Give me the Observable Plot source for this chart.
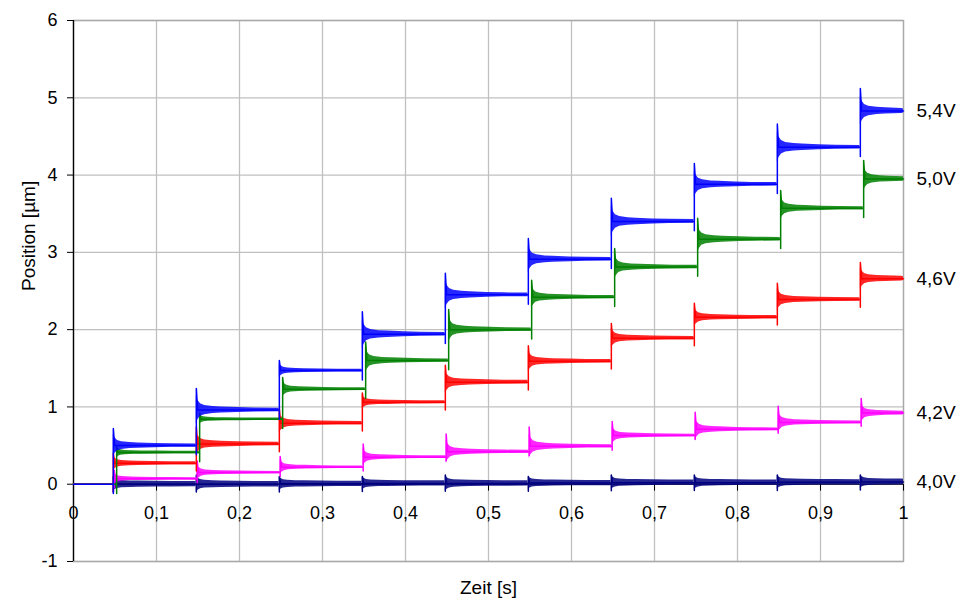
<!DOCTYPE html>
<html>
<head>
<meta charset="utf-8">
<script src="https://cdn.jsdelivr.net/npm/d3@7"></script>
<script src="https://cdn.jsdelivr.net/npm/@observablehq/plot@0.6"></script>
<style>
  html, body { margin: 0; padding: 0; background: white; }
</style>
</head>
<body>
<div id="chart"></div>
<script>
// ---- Data ----
const xTicks = [0, 0.1, 0.2, 0.3, 0.4, 0.5, 0.6, 0.7, 0.8, 0.9, 1];
const xTickLabels = ["0", "0,1", "0,2", "0,3", "0,4", "0,5", "0,6", "0,7", "0,8", "0,9", "1"];
const yTicks = [-1, 0, 1, 2, 3, 4, 5, 6];

const seriesNames = ["5,4V", "5,0V", "4,6V", "4,2V", "4,0V"];
const seriesColors = ["#0000ff", "#008000", "#ff0000", "#ff00ff", "#000080"];

// step instants (s)
const stepTimes = [0.048, 0.148, 0.248, 0.348, 0.448, 0.548, 0.648, 0.748, 0.848, 0.948];
const stepOffset = [0, 0.004, 0, 0.001, 0];

// settled position after each step (µm)
const levels54 = [0.50, 0.96, 1.47, 1.94, 2.45, 2.91, 3.40, 3.88, 4.36, 4.83];
const levels50 = [0.41, 0.84, 1.23, 1.60, 2.00, 2.42, 2.81, 3.17, 3.57, 3.95];
const levels46 = [0.27, 0.52, 0.79, 1.06, 1.32, 1.59, 1.89, 2.16, 2.39, 2.66];
const levels42 = [0.07, 0.15, 0.22, 0.35, 0.42, 0.49, 0.63, 0.71, 0.80, 0.92];
const levels40 = [0.00, 0.00, 0.005, 0.01, 0.01, 0.015, 0.02, 0.02, 0.025, 0.03];

// overshoot peak right after each step (µm)
const peaks54 = [0.72, 1.24, 1.60, 2.23, 2.73, 3.18, 3.70, 4.15, 4.66, 5.12];
const peaks50 = [0.50, 0.92, 1.38, 1.84, 2.26, 2.64, 3.05, 3.44, 3.80, 4.19];
const peaks46 = [0.40, 0.74, 0.98, 1.18, 1.54, 1.79, 2.08, 2.34, 2.60, 2.87];
const peaks42 = [0.18, 0.30, 0.36, 0.52, 0.65, 0.74, 0.81, 0.93, 1.01, 1.11];
const peaks40 = [0.10, 0.12, 0.10, 0.10, 0.12, 0.10, 0.12, 0.12, 0.12, 0.12];

// dip below previous level at each step, and residual noise half-width (µm)
const undershoot = [0.12, 0.12, 0.10, 0.05, 0.10];
const noiseFloor = [0.012, 0.012, 0.015, 0.010, 0.030];

// ringing envelope after a step: time after step (s) and fraction of overshoot
const ringDt  = [0, 0.002, 0.005, 0.01, 0.02, 0.03, 0.05, 0.07, 0.1];
const ringEnv = [0.6, 0.4, 0.25, 0.17, 0.12, 0.1, 0.07, 0.05, 0.04];

const allLevels = [levels54, levels50, levels46, levels42, levels40];
const allPeaks = [peaks54, peaks50, peaks46, peaks42, peaks40];

// ---- Build tables for the marks ----
function buildLine(k) {
  const L = allLevels[k], P = allPeaks[k];
  const pts = [{x: 0, y: 0}];
  let prev = 0;
  stepTimes.forEach((t0, i) => {
    const t = t0 + stepOffset[k];
    pts.push({x: t, y: prev}, {x: t, y: prev - undershoot[k]}, {x: t, y: P[i]}, {x: t + 0.0015, y: L[i]});
    prev = L[i];
  });
  pts.push({x: 1, y: prev});
  return pts;
}
function buildBand(k) {
  const L = allLevels[k], P = allPeaks[k];
  const rows = [];
  stepTimes.forEach((t0, i) => {
    const t = t0 + stepOffset[k];
    const tEnd = i < stepTimes.length - 1 ? stepTimes[i + 1] + stepOffset[k] - 0.0005 : 1;
    const amp = P[i] - L[i];
    ringDt.forEach((dt, j) => {
      const w = ringEnv[j] * amp + noiseFloor[k];
      rows.push({x: Math.min(t + dt, tEnd), y1: L[i] - w, y2: L[i] + w, z: i});
    });
  });
  return rows;
}

const drawOrder = [4, 3, 2, 1, 0];
const seriesMarks = [];
drawOrder.forEach(k => {
  seriesMarks.push(Plot.areaY(buildBand(k), {x: "x", y1: "y1", y2: "y2", z: "z", fill: seriesColors[k], fillOpacity: 0.85}));
  seriesMarks.push(Plot.line(buildLine(k), {x: "x", y: "y", stroke: seriesColors[k], strokeWidth: 1.5}));
});

const tickShape = {draw(context, l) { context.moveTo(0, 0); context.lineTo(0, -l); }};
const gridStyle = {stroke: "#c0c0c0", strokeOpacity: 1, strokeWidth: 1.3};

const chart = Plot.plot({
  width: 958,
  height: 605,
  marginLeft: 73,
  marginRight: 55,
  marginTop: 20,
  marginBottom: 44,
  x: {domain: [0, 1], axis: null},
  y: {domain: [-1, 6], axis: null},
  style: {fontFamily: "'Liberation Sans', Arial, sans-serif", background: "white", color: "black"},
  marks: [
    Plot.gridX({ticks: xTicks, ...gridStyle}),
    Plot.gridY({ticks: yTicks, ...gridStyle}),
    Plot.frame({stroke: "#a8a8a8", strokeWidth: 1.3}),
    Plot.ruleY([0], {stroke: "black", strokeWidth: 1}),
    Plot.ruleX([0], {stroke: "black", strokeWidth: 1.3}),
    Plot.axisY({ticks: yTicks, tickSize: 6, tickPadding: 10, tickFormat: d => String(d), fontSize: 18, label: null, stroke: "black"}),
    Plot.vector(xTicks, {x: d => d, y: 0, length: 6, rotate: 180, anchor: "start", shape: tickShape, stroke: "black", strokeWidth: 1}),
    Plot.text(xTicks, {x: d => d, y: 0, text: (d, i) => xTickLabels[i], dy: 29, fontSize: 18, fill: "black"}),
    ...seriesMarks,
    Plot.text(seriesNames, {x: 1, y: (d, i) => allLevels[i][allLevels[i].length - 1], text: d => d, dx: 13, textAnchor: "start", fontSize: 19, fill: "black"}),
    Plot.text(["Zeit [s]"], {frameAnchor: "bottom", dy: 32, fontSize: 19, fill: "black"}),
    Plot.text(["Position [µm]"], {frameAnchor: "left", dx: -45, rotate: -90, fontSize: 19, fill: "black"})
  ]
});
document.getElementById("chart").appendChild(chart);
</script>
</body>
</html>
